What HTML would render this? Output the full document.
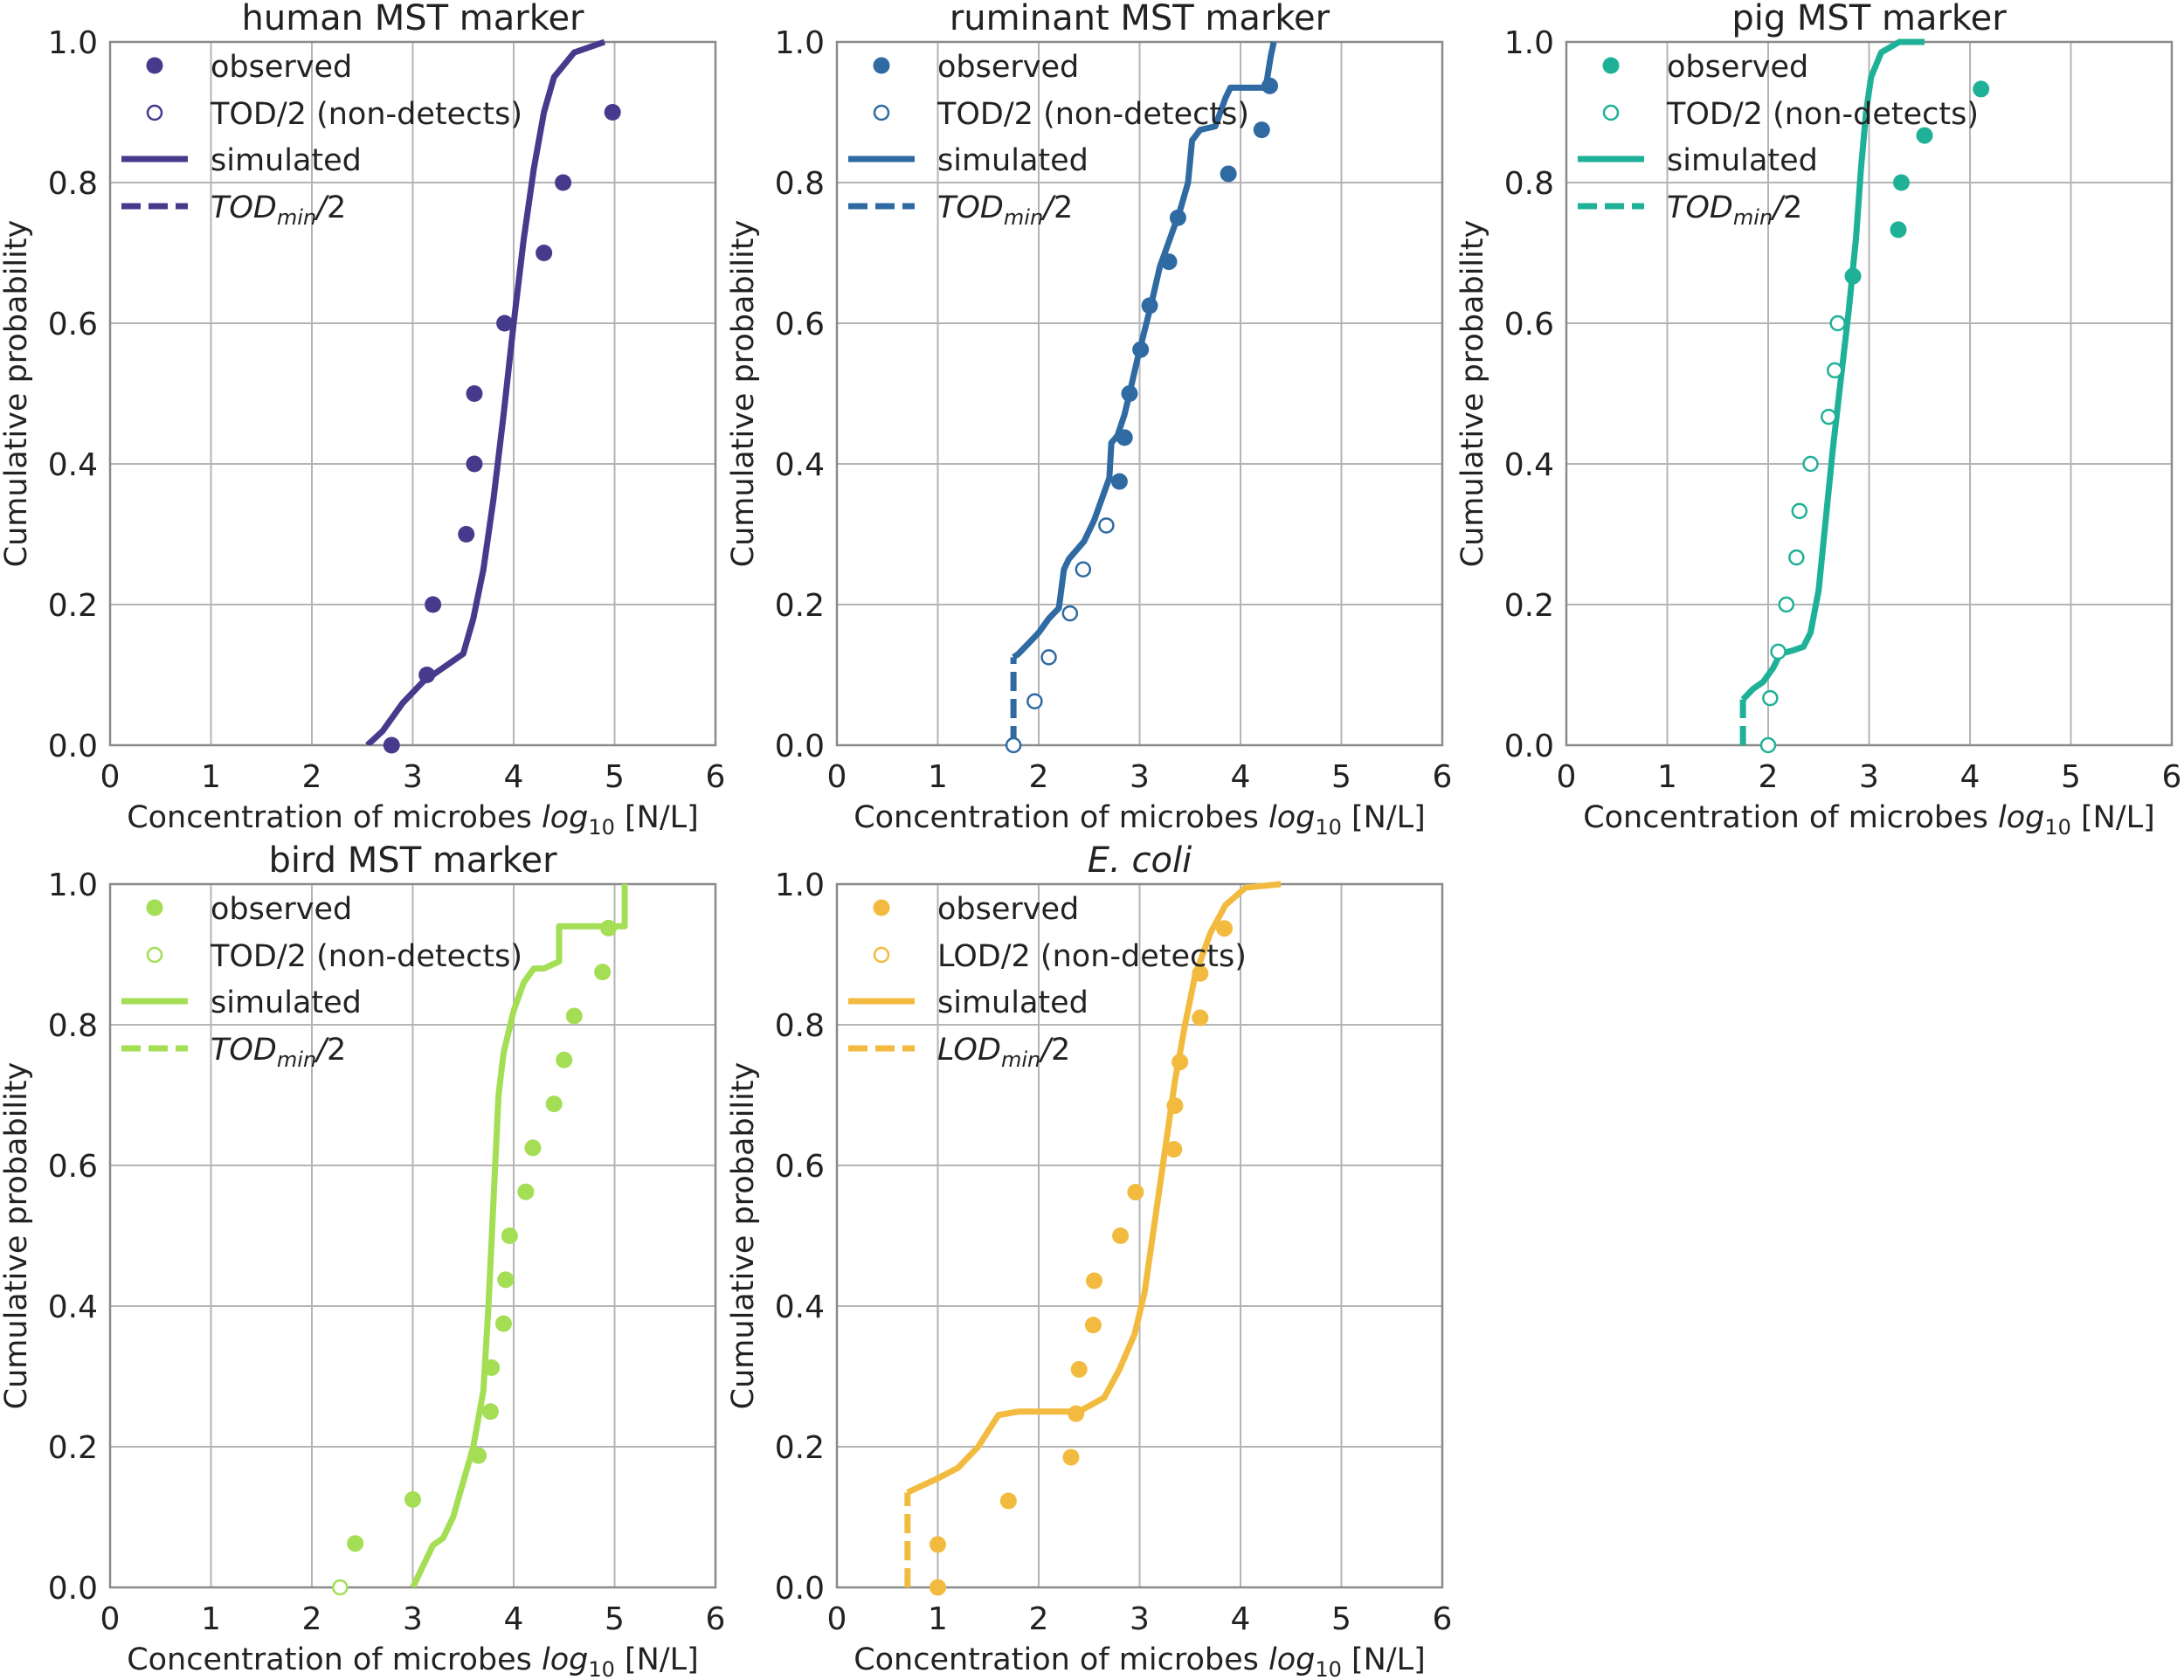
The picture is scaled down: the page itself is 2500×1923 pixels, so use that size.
<!DOCTYPE html>
<html><head><meta charset="utf-8"><style>
html,body{margin:0;padding:0;background:#fff}
svg{display:block}
text{font-family:"DejaVu Sans","Liberation Sans",sans-serif;fill:#222}
</style></head><body>
<svg id="fig" width="2500" height="1923" viewBox="0 0 2500 1923" xmlns="http://www.w3.org/2000/svg"></svg>
<script>
// ---- data ----
const titles = ["human MST marker","ruminant MST marker","pig MST marker","bird MST marker","E. coli"];
const colors = ["#463a8c","#2f6aa2","#1fb197","#a3de55","#f2bb3f"];
const ndLabels = ["TOD/2 (non-detects)","TOD/2 (non-detects)","TOD/2 (non-detects)","TOD/2 (non-detects)","LOD/2 (non-detects)"];
const minLabels = ["TOD","TOD","TOD","TOD","LOD"];
const xTicks = [0,1,2,3,4,5,6];
const yTicks = [0.0,0.2,0.4,0.6,0.8,1.0];

const humanObsX = [2.79,3.14,3.2,3.53,3.61,3.61,3.91,4.3,4.49,4.98];
const humanObsY = [0.0,0.1,0.2,0.3,0.4,0.5,0.6,0.7,0.8,0.9];
const humanNdX = [];
const humanNdY = [];
const humanSimX = [2.55,2.7,2.9,3.1,3.3,3.5,3.6,3.7,3.8,3.9,4.0,4.1,4.2,4.3,4.4,4.6,4.9];
const humanSimY = [0,0.02,0.06,0.09,0.11,0.13,0.18,0.25,0.35,0.47,0.6,0.72,0.82,0.9,0.95,0.985,1.0];
const humanMin = null;

const rumObsX = [2.8,2.85,2.9,3.01,3.1,3.29,3.38,3.88,4.21,4.29];
const rumObsY = [0.375,0.4375,0.5,0.5625,0.625,0.6875,0.75,0.8125,0.875,0.9375];
const rumNdX = [1.75,1.96,2.1,2.31,2.44,2.67];
const rumNdY = [0,0.0625,0.125,0.1875,0.25,0.3125];
const rumSimX = [1.75,1.8,1.9,2.0,2.1,2.2,2.25,2.3,2.45,2.55,2.65,2.7,2.72,2.78,2.85,2.9,2.98,3.05,3.12,3.2,3.3,3.4,3.48,3.52,3.6,3.75,3.85,3.9,4.25,4.3,4.33];
const rumSimY = [0.125,0.13,0.145,0.16,0.18,0.195,0.25,0.265,0.29,0.32,0.36,0.38,0.43,0.44,0.47,0.5,0.55,0.59,0.63,0.68,0.72,0.76,0.8,0.86,0.875,0.88,0.92,0.935,0.935,0.98,1.0];
const rumMin = [1.75,0.125];

const pigObsX = [2.84,3.29,3.32,3.55,4.11];
const pigObsY = [0.667,0.733,0.8,0.867,0.933];
const pigNdX = [2.0,2.02,2.1,2.18,2.28,2.31,2.42,2.6,2.66,2.69];
const pigNdY = [0,0.067,0.133,0.2,0.267,0.333,0.4,0.467,0.533,0.6];
const pigSimX = [1.75,1.85,1.95,2.05,2.12,2.25,2.35,2.42,2.5,2.57,2.64,2.72,2.8,2.87,2.92,2.97,3.02,3.12,3.3,3.55];
const pigSimY = [0.065,0.08,0.09,0.11,0.13,0.135,0.14,0.16,0.22,0.32,0.42,0.52,0.62,0.72,0.82,0.9,0.95,0.985,1.0,1.0];
const pigMin = [1.75,0.065];

const birdObsX = [2.43,3.0,3.65,3.77,3.78,3.9,3.92,3.96,4.12,4.19,4.4,4.5,4.6,4.88,4.94];
const birdObsY = [0.0625,0.125,0.1875,0.25,0.3125,0.375,0.4375,0.5,0.5625,0.625,0.6875,0.75,0.8125,0.875,0.9375];
const birdNdX = [2.28];
const birdNdY = [0];
const birdSimX = [3.0,3.1,3.2,3.3,3.4,3.5,3.6,3.7,3.75,3.8,3.85,3.9,4.0,4.1,4.2,4.3,4.45,4.45,5.1,5.1];
const birdSimY = [0,0.03,0.06,0.07,0.1,0.15,0.2,0.28,0.4,0.55,0.7,0.76,0.82,0.86,0.88,0.88,0.89,0.94,0.94,1.0];
const birdMin = null;

const ecoObsX = [1.0,1.0,1.7,2.32,2.37,2.4,2.54,2.55,2.81,2.96,3.34,3.35,3.4,3.6,3.6,3.84];
const ecoObsY = [0,0.061,0.123,0.185,0.247,0.31,0.373,0.436,0.5,0.562,0.623,0.685,0.747,0.81,0.873,0.937];
const ecoNdX = [];
const ecoNdY = [];
const ecoSimX = [0.7,1.0,1.2,1.4,1.6,1.8,2.4,2.65,2.8,2.95,3.05,3.15,3.25,3.35,3.45,3.55,3.7,3.85,4.05,4.4];
const ecoSimY = [0.135,0.155,0.17,0.2,0.245,0.25,0.25,0.27,0.31,0.36,0.42,0.52,0.62,0.72,0.8,0.87,0.93,0.97,0.995,1.0];
const ecoMin = [0.7,0.135];

const panels = [
 {obsX:humanObsX,obsY:humanObsY,ndX:humanNdX,ndY:humanNdY,simX:humanSimX,simY:humanSimY,min:humanMin,name:"human"},
 {obsX:rumObsX,obsY:rumObsY,ndX:rumNdX,ndY:rumNdY,simX:rumSimX,simY:rumSimY,min:rumMin,name:"ruminant"},
 {obsX:pigObsX,obsY:pigObsY,ndX:pigNdX,ndY:pigNdY,simX:pigSimX,simY:pigSimY,min:pigMin,name:"pig"},
 {obsX:birdObsX,obsY:birdObsY,ndX:birdNdX,ndY:birdNdY,simX:birdSimX,simY:birdSimY,min:birdMin,name:"bird"},
 {obsX:ecoObsX,obsY:ecoObsY,ndX:ecoNdX,ndY:ecoNdY,simX:ecoSimX,simY:ecoSimY,min:ecoMin,name:"ecoli"}
];

// ---- layout ----
const NS="http://www.w3.org/2000/svg";
const svg=document.getElementById("fig");
const lefts=[126,958,1793,126,958], tops=[48,48,48,1012,1012];
const W=693,H=805,LW=7;
function mk(tag,attrs,parent){const e=document.createElementNS(NS,tag);for(const k in attrs)e.setAttribute(k,attrs[k]);(parent||svg).appendChild(e);return e;}

panels.forEach((p,i)=>{
  const L=lefts[i],T=tops[i],c=colors[i];
  const sx=v=>L+v/6*W, sy=v=>T+H-v*H;
  const g=mk("g",{});
  
  
  const defs=mk("clipPath",{id:"cp"+i},g); mk("rect",{x:L,y:T-6,width:W+10,height:H+6},defs);
  xTicks.forEach(t=>{
    const l=mk("line",{x1:sx(t),x2:sx(t),y1:T,y2:T+H,stroke:"#b4b4b4","stroke-width":2},g);
    
    
    const tx=mk("text",{x:sx(t),y:T+H+48,"text-anchor":"middle","font-size":36},g); tx.textContent=t;
    
    
  });
  yTicks.forEach(t=>{
    const l=mk("line",{x1:L,x2:L+W,y1:sy(t),y2:sy(t),stroke:"#b4b4b4","stroke-width":2},g);
    
    
    const tx=mk("text",{x:L-14,y:sy(t)+13,"text-anchor":"end","font-size":36},g); tx.textContent=t.toFixed(1);
    
    
  });
  const fr=mk("rect",{x:L,y:T,width:W,height:H,fill:"none",stroke:"#8a8a8a","stroke-width":2.5},g);
  
  
  const tt=mk("text",{x:L+W/2,y:T-14,"text-anchor":"middle","font-size":40},g);
  if(i===4){tt.setAttribute("font-style","italic");}
  tt.textContent=titles[i];
  
  
  const xl=mk("text",{x:L+W/2,y:T+H+94,"text-anchor":"middle","font-size":35},g);
  xl.innerHTML='Concentration of microbes <tspan font-style="italic">log</tspan><tspan font-size="24" dy="8">10</tspan><tspan dy="-8"> [N/L]</tspan>';
  
  
  const yl=mk("text",{x:0,y:0,"text-anchor":"middle","font-size":35,transform:`translate(${L-96},${T+H/2}) rotate(-90)`},g);
  yl.textContent="Cumulative probability";
  
  
  const cg=mk("g",{"clip-path":`url(#cp${i})`},g);
  if(p.min){
    const d=mk("line",{x1:sx(p.min[0]),x2:sx(p.min[0]),y1:sy(0),y2:sy(p.min[1]),stroke:c,"stroke-width":LW,"stroke-dasharray":"22,9"},cg);
    
    
  }
  const pts=p.simX.map((x,k)=>sx(x)+","+sy(p.simY[k])).join(" ");
  const pl=mk("polyline",{points:pts,fill:"none",stroke:c,"stroke-width":LW,"stroke-linejoin":"round"},cg);
  
  
  p.ndX.forEach((x,k)=>{
    const m=mk("circle",{cx:sx(x),cy:sy(p.ndY[k]),r:8,fill:"#fff",stroke:c,"stroke-width":2.5},g);
    
    
  });
  p.obsX.forEach((x,k)=>{
    const m=mk("circle",{cx:sx(x),cy:sy(p.obsY[k]),r:9.5,fill:c},g);
    
    
  });
  const lg=mk("g",{},g);
  
  
  const rows=[T+27,T+81,T+134,T+188], tx0=L+115;
  mk("circle",{cx:L+51,cy:rows[0],r:9.5,fill:c},lg);
  mk("circle",{cx:L+51,cy:rows[1],r:8,fill:"#fff",stroke:c,"stroke-width":2.5},lg);
  mk("line",{x1:L+13,x2:L+89,y1:rows[2],y2:rows[2],stroke:c,"stroke-width":LW},lg);
  mk("line",{x1:L+13,x2:L+89,y1:rows[3],y2:rows[3],stroke:c,"stroke-width":LW,"stroke-dasharray":"22,9"},lg);
  const labs=["observed",ndLabels[i],"simulated"];
  labs.forEach((s,k)=>{const t=mk("text",{x:tx0,y:rows[k]+13,"font-size":35},lg);t.textContent=s;
    
    });
  const t4=mk("text",{x:tx0,y:rows[3]+13,"font-size":35},lg);
  t4.innerHTML=`<tspan font-style="italic">${minLabels[i]}</tspan><tspan font-style="italic" font-size="24" dy="8">min</tspan><tspan dy="-8" font-style="italic">/</tspan><tspan>2</tspan>`;
  
  
});
</script>
</body></html>
